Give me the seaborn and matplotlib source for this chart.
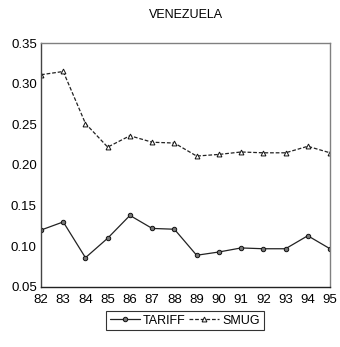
import matplotlib
matplotlib.use("Agg")
import matplotlib.pyplot as plt
import seaborn as sns
import pandas as pd

years = [82, 83, 84, 85, 86, 87, 88, 89, 90, 91, 92, 93, 94, 95]
tariff = [0.120, 0.130, 0.086, 0.110, 0.138, 0.122, 0.121, 0.089, 0.093, 0.098, 0.097, 0.097, 0.113, 0.097]
smug = [0.311, 0.315, 0.251, 0.222, 0.236, 0.228, 0.227, 0.211, 0.213, 0.216, 0.215, 0.215, 0.223, 0.215]
yticks = [0.05, 0.10, 0.15, 0.20, 0.25, 0.30, 0.35]

sns.set_style("white")
plt.rcParams['font.family'] = ['Liberation Sans', 'DejaVu Sans']
plt.rcParams['text.color'] = '#000000'
plt.rcParams['xtick.labelcolor'] = '#000000'
plt.rcParams['ytick.labelcolor'] = '#000000'

df = pd.DataFrame({"year": years, "TARIFF": tariff, "SMUG": smug})

fig = plt.figure(figsize=(3.4, 3.47), dpi=100)
ax = fig.add_axes([0.1206, 0.173, 0.85, 0.703])

sns.lineplot(data=df, x="year", y="TARIFF", ax=ax, color="#222222", lw=0.9,
             marker="o", markersize=3.2, markerfacecolor="#777777",
             markeredgecolor="#111111", markeredgewidth=0.7, label="TARIFF")
sns.lineplot(data=df, x="year", y="SMUG", ax=ax, color="#222222", lw=0.9,
             linestyle=(0, (3, 1.5)), marker="^", markersize=3.5,
             markerfacecolor="white", markeredgecolor="#111111",
             markeredgewidth=0.7, label="SMUG")

ax.set_xlim(82, 95)
ax.set_ylim(0.05, 0.35)
ax.set_xticks(years)
ax.set_xticklabels([str(y) for y in years])
ax.set_yticks(yticks)
ax.set_yticklabels([f"{v:.2f}" for v in yticks])
ax.set_xlabel("")
ax.set_ylabel("")
ax.tick_params(axis="x", direction="in", length=4, width=0.8,
               labelsize=9.5, color="#333333", labelcolor="#000000", pad=5)
ax.tick_params(axis="y", direction="out", length=2, width=0.8,
               labelsize=9.5, color="#333333", labelcolor="#000000", pad=1)
for s in ax.spines.values():
    s.set_color("#808080")
    s.set_linewidth(1.0)
ax.spines["left"].set_color("#444444")
ax.spines["bottom"].set_color("#222222")

ax.set_title("VENEZUELA", fontsize=9, pad=18, color="#000000")

leg = ax.legend(loc="upper center", bbox_to_anchor=(0.497, -0.098), ncol=2,
                frameon=True, fontsize=9, handlelength=2.4,
                columnspacing=0.3, handletextpad=0.25, borderpad=0.3,
                fancybox=False, borderaxespad=0)
leg.get_frame().set_edgecolor("#000000")
leg.get_frame().set_linewidth(0.8)
for t in leg.get_texts():
    t.set_color("#000000")

fig.savefig("out.png", dpi=100)
